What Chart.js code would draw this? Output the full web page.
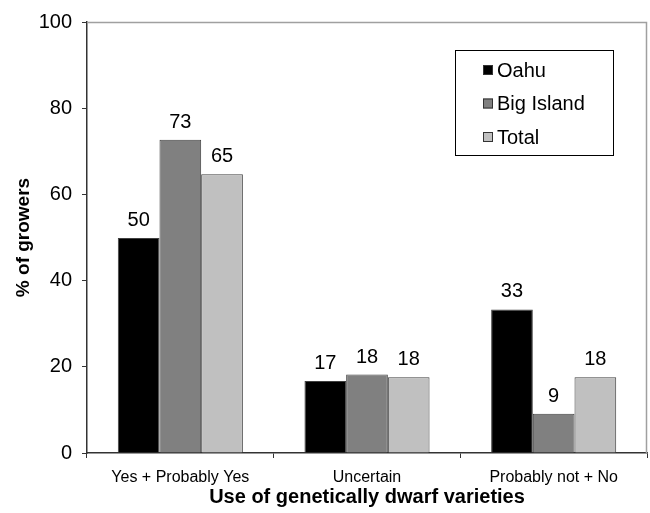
<!DOCTYPE html>
<html>
<head>
<meta charset="utf-8">
<script src="https://cdn.jsdelivr.net/npm/chart.js@4/dist/chart.umd.min.js"></script>
<style>
  html, body { margin: 0; padding: 0; background: #fff; }
  canvas { display: block; }
</style>
</head>
<body>
<canvas id="myChart" width="650" height="513"></canvas>
<script>
// Data
const categories = ['Yes + Probably Yes', 'Uncertain', 'Probably not + No'];
const seriesNames = ['Oahu', 'Big Island', 'Total'];
const oahu = [49.9, 16.7, 33.3];
const bigIsland = [72.7, 18.2, 9.1];
const total = [64.7, 17.6, 17.6];
const yTicks = [0, 20, 40, 60, 80, 100];

const font = "'Liberation Sans', Arial, sans-serif";

// value labels above each bar
const barLabels = {
  id: 'barLabels',
  afterDatasetsDraw(chart) {
    const ctx = chart.ctx;
    ctx.save();
    ctx.font = '20px ' + font;
    ctx.fillStyle = '#000';
    ctx.textAlign = 'center';
    ctx.textBaseline = 'alphabetic';
    chart.data.datasets.forEach((ds, i) => {
      chart.getDatasetMeta(i).data.forEach((bar, j) => {
        ctx.fillText(Math.round(ds.data[j]), bar.x, bar.y - 12);
      });
    });
    ctx.restore();
  }
};

// grey frame on top/right and the boxed legend inside the plot
const frameAndLegend = {
  id: 'frameAndLegend',
  afterDraw(chart) {
    const ctx = chart.ctx;
    const a = chart.chartArea;
    ctx.save();
    ctx.strokeStyle = '#a0a0a0';
    ctx.lineWidth = 1.5;
    ctx.beginPath();
    ctx.moveTo(a.left, a.top + 0.5);
    ctx.lineTo(a.right - 0.5, a.top + 0.5);
    ctx.lineTo(a.right - 0.5, a.bottom);
    ctx.stroke();

    // legend box
    ctx.fillStyle = '#fff';
    ctx.fillRect(455, 50, 158, 105);
    ctx.strokeStyle = '#000';
    ctx.lineWidth = 1;
    ctx.strokeRect(455.5, 50.5, 158, 105);
    ctx.font = '20px ' + font;
    ctx.textBaseline = 'middle';
    ctx.textAlign = 'left';
    chart.data.datasets.forEach((ds, i) => {
      const cy = 70 + i * 33.5;
      ctx.fillStyle = ds.backgroundColor;
      ctx.fillRect(483, cy - 5, 10, 10);
      ctx.strokeStyle = '#333';
      ctx.strokeRect(483.5, cy - 4.5, 9, 9);
      ctx.fillStyle = '#000';
      ctx.fillText(ds.label, 497, cy + 1);
    });
    ctx.restore();
  }
};

const ctx = document.getElementById('myChart').getContext('2d');
new Chart(ctx, {
  type: 'bar',
  data: {
    labels: categories,
    datasets: [
      { label: seriesNames[0], data: oahu, backgroundColor: '#000000' },
      { label: seriesNames[1], data: bigIsland, backgroundColor: '#808080' },
      { label: seriesNames[2], data: total, backgroundColor: '#c0c0c0' },
    ].map(d => Object.assign(d, {
      borderColor: '#404040',
      borderWidth: 1,
      barPercentage: 1,
      categoryPercentage: 0.67,
    })),
  },
  options: {
    responsive: false,
    animation: false,
    layout: { padding: { top: 18, right: 3, left: 0, bottom: 0 } },
    plugins: {
      legend: { display: false },
      tooltip: { enabled: false },
    },
    scales: {
      x: {
        grid: { display: true, drawOnChartArea: false, drawTicks: true, tickLength: 5, color: '#333' },
        border: { display: true, color: '#333', width: 1.5 },
        ticks: { color: '#000', font: { family: font, size: 16 }, padding: 10, maxRotation: 0 },
        title: {
          display: true,
          text: 'Use of genetically dwarf varieties',
          color: '#000',
          font: { family: font, size: 20, weight: 'bold' },
          padding: { top: 0, bottom: 4 },
        },
        afterFit(scale) { scale.height = 60; },
      },
      y: {
        min: 0,
        max: 100,
        afterBuildTicks(scale) { scale.ticks = yTicks.map(v => ({ value: v })); },
        grid: { display: true, drawOnChartArea: false, drawTicks: true, tickLength: 5, color: '#333' },
        border: { display: true, color: '#333', width: 1.5 },
        ticks: { color: '#000', font: { family: font, size: 20 }, padding: 10 },
        title: {
          display: true,
          text: '% of growers',
          color: '#000',
          font: { family: font, size: 19, weight: 'bold' },
          padding: { top: 12, bottom: 0 },
        },
        afterFit(scale) { scale.width = 87; },
      },
    },
  },
  plugins: [barLabels, frameAndLegend],
});
</script>
</body>
</html>
